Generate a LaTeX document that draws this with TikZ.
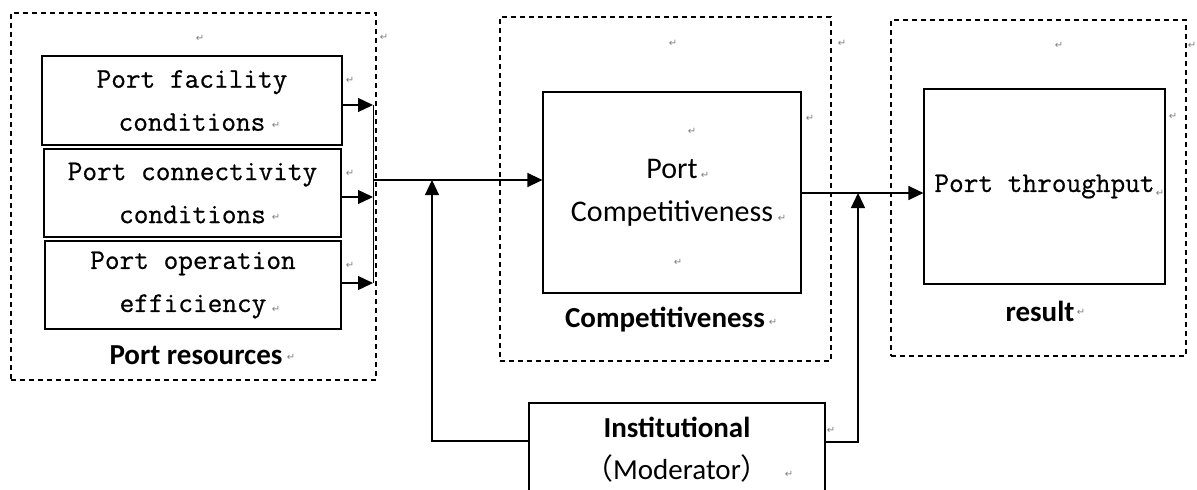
\documentclass[tikz,border=0pt]{standalone}
\usepackage{fontspec}
\setmainfont{Carlito}
\newfontfamily\monofam[FakeBold=0.6]{Latin Modern Mono}
\newfontfamily\cjkfam{Noto Sans CJK SC}
\newfontfamily\symfam{DejaVu Sans}
\usetikzlibrary{arrows.meta}
\begin{document}
\begin{tikzpicture}[x=1pt,y=-1pt,
 box/.style={draw, line width=1.2pt, inner sep=0pt, align=center},
 dbox/.style={draw, dash pattern=on 5pt off 4pt, line width=1.1pt, inner sep=0pt},
 mono/.style={font=\monofam\fontsize{28.5}{43}\selectfont},
 cal/.style={font=\fontsize{30}{43}\selectfont},
 lab/.style={font=\bfseries\fontsize{29}{30}\selectfont, inner sep=0pt},
 rm/.style={font=\symfam\fontsize{10}{10}\selectfont, text=gray, inner sep=0pt},
 arr/.style={line width=1.3pt, -{Triangle[length=15pt,width=14pt]}},
 ln/.style={line width=1.3pt}]
\useasboundingbox (0,0) rectangle (1197,490);
\clip (0,0) rectangle (1197,490);
\fill[white] (0,0) rectangle (1197,490);

% dashed groups
\node[dbox, minimum width=365pt, minimum height=367pt] (g1) at (193.5,196.5) {};
\node[dbox, minimum width=331pt, minimum height=344pt] (g2) at (665.5,189) {};
\node[dbox, minimum width=295pt, minimum height=336pt] (g3) at (1038.5,188) {};

% boxes
\node[box, mono, minimum width=300pt, minimum height=89pt] (fac) at (192,100.5) {Port facility\\conditions};
\node[box, mono, minimum width=297pt, minimum height=88pt] (con) at (192.5,193) {Port connectivity\\conditions};
\node[box, mono, minimum width=296pt, minimum height=88pt] (eff) at (193,285) {Port operation\\efficiency};
\node[box, cal, minimum width=258pt, minimum height=201pt] (comp) at (672,192.5) {Port\\Competitiveness};
\node[box, mono, minimum width=241pt, minimum height=195pt] (thr) at (1044.5,186.5) {Port throughput};
\node[box, font=\fontsize{29}{42}\selectfont, minimum width=296pt, minimum height=94pt] (inst) at (677,450) {\textbf{Institutional}\\{\cjkfam （}Moderator{\cjkfam ）}};

% group labels
\node[lab] (l1) at (196,355) {Port resources};
\node[lab] (l2) at (665,320) {Competitiveness};
\node[lab] (l3) at (1040,311) {result};

% connectors
\coordinate (b1) at (373,105);
\coordinate (b2) at (373,197);
\coordinate (b3) at (373,283);
\coordinate (bm) at (373,180);
\coordinate (j1) at (432,180);
\coordinate (j2) at (858,193);
\draw[arr] (fac.east |- b1) -- (b1);
\draw[arr] (con.east |- b2) -- (b2);
\draw[arr] (eff.east |- b3) -- (b3);
\draw[line width=1pt] (b1) -- (b3);
\draw[arr] (bm) -- (comp.west |- bm);
\draw[arr] (comp.east |- j2) -- (thr.west |- j2);
\draw[arr] (inst.west |- 0,441) -| (j1);
\draw[arr] (inst.east |- 0,442) -| (j2);

% paragraph marks
\node[rm] (r1) at (200,38) {↵};
\node[rm] (r2) at (384,37) {↵};
\node[rm] (r3) at (350,80) {↵};
\node[rm] (r4) at (276,125) {↵};
\node[rm] (r5) at (350,173) {↵};
\node[rm] (r6) at (276,217) {↵};
\node[rm] (r7) at (350,265) {↵};
\node[rm] (r8) at (276,309) {↵};
\node[rm] (r9) at (291,357) {↵};
\node[rm] (r10) at (673,43) {↵};
\node[rm] (r11) at (842,43) {↵};
\node[rm] (r12) at (810,118) {↵};
\node[rm] (r13) at (692,131) {↵};
\node[rm] (r14) at (705,175) {↵};
\node[rm] (r15) at (782,218) {↵};
\node[rm] (r16) at (678,262) {↵};
\node[rm] (r17) at (773,322) {↵};
\node[rm] (r18) at (1059,45) {↵};
\node[rm] (r19) at (1192,45) {↵};
\node[rm] (r20) at (1173,116) {↵};
\node[rm] (r21) at (1160,193) {↵};
\node[rm] (r22) at (1081,312) {↵};
\node[rm] (r23) at (831,430) {↵};
\node[rm] (r24) at (789,474) {↵};
\end{tikzpicture}
\end{document}
